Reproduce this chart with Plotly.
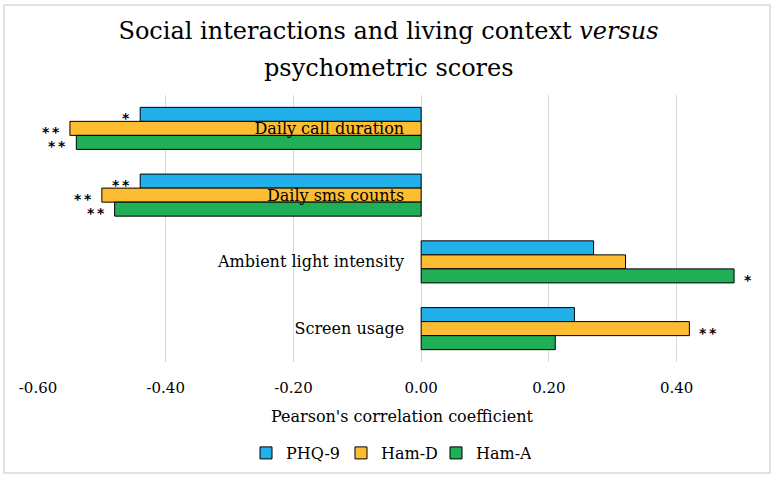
import plotly.graph_objects as go

categories = ["Daily call duration", "Daily sms counts", "Ambient light intensity", "Screen usage"]
series_names = ["PHQ-9", "Ham-D", "Ham-A"]
phq9 = [-0.44, -0.44, 0.27, 0.24]
hamd = [-0.55, -0.50, 0.32, 0.42]
hama = [-0.54, -0.48, 0.49, 0.21]
phq9_sig = ["*", "**", "", ""]
hamd_sig = ["**", "**", "", "**"]
hama_sig = ["**", "**", "*", ""]
tick_vals = [-0.6, -0.4, -0.2, 0.0, 0.2, 0.4]
tick_text = ["-0.60", "-0.40", "-0.20", "0.00", "0.20", "0.40"]
title_line1 = "Social interactions and living context <i>versus</i>"
title_line2 = "psychometric scores"

colors = ["#22B0EA", "#FDBD33", "#20AE56"]
FONT = "DejaVu Serif"
xmin, xmax = -0.6, 0.54
L, R, T, B = 38, 11, 95, 120
PW, PH = 777 - L - R, 482 - T - B

fig = go.Figure()
for name, vals, col in zip(series_names, [phq9, hamd, hama], colors):
    fig.add_trace(go.Bar(
        y=categories, x=vals, name=name, orientation="h",
        marker=dict(color=col, line=dict(color="black", width=1)),
    ))

shifts = [14, 0, -14]
for vals, sigs, ys in zip([phq9, hamd, hama], [phq9_sig, hamd_sig, hama_sig], shifts):
    for cat, v, s in zip(categories, vals, sigs):
        if not s:
            continue
        fig.add_annotation(
            x=v, y=cat, xref="x", yref="y", text="\u2009".join(s),
            showarrow=False, xanchor="right" if v < 0 else "left",
            xshift=-9 if v < 0 else 9, yshift=ys - 4,
            font=dict(family="DejaVu Sans", size=14, color="black", weight="bold"),
            borderpad=0,
        )

fig.add_annotation(
    text=title_line2, xref="paper", yref="paper",
    x=(388.5 - L) / PW, y=(482 - B - 68) / PH, xanchor="center", yanchor="middle",
    showarrow=False, font=dict(family=FONT, size=24, color="black"),
)

fig.update_layout(
    width=777, height=482,
    paper_bgcolor="white", plot_bgcolor="white",
    margin=dict(l=L, r=R, t=T, b=B),
    barmode="group", bargap=0.37, bargroupgap=0,
    title=dict(
        text=title_line1,
        x=0.5, xref="container", xanchor="center",
        y=1 - 31 / 482, yref="container", yanchor="middle",
        font=dict(family=FONT, size=24, color="black"),
    ),
    xaxis=dict(
        range=[xmin, xmax], tickvals=tick_vals, ticktext=tick_text,
        showgrid=True, gridcolor="#D9D9D9", gridwidth=1,
        zeroline=False, showline=False, ticks="", automargin=False,
        ticklabelstandoff=15,
        tickfont=dict(family=FONT, size=15, color="black"),
        title=dict(text="Pearson's correlation coefficient",
                   font=dict(family=FONT, size=16, color="black"), standoff=14),
    ),
    yaxis=dict(
        type="category", autorange="reversed", automargin=False,
        anchor="free", position=(0 - xmin) / (xmax - xmin),
        showgrid=False, showline=False, ticks="", zeroline=False,
        ticklabelstandoff=17,
        tickfont=dict(family=FONT, size=16, color="black"),
    ),
    legend=dict(
        orientation="h", x=0.5, xref="container", xanchor="center",
        y=1 - 453 / 482, yref="container", yanchor="middle",
        font=dict(family=FONT, size=16, color="black"),
        traceorder="normal", itemwidth=30,
        entrywidth=50, entrywidthmode="pixels",
    ),
    showlegend=True,
    shapes=[dict(type="rect", xref="paper", yref="paper",
                 x0=(4 - L) / PW, x1=(770 - L) / PW,
                 y0=(482 - B - 473) / PH, y1=(482 - B - 5) / PH,
                 line=dict(color="#D9D9D9", width=1.5), layer="below")],
)

fig.write_html("out.html", config={"displayModeBar": False},
               post_script="document.body.style.margin='0';document.body.style.padding='0';")
